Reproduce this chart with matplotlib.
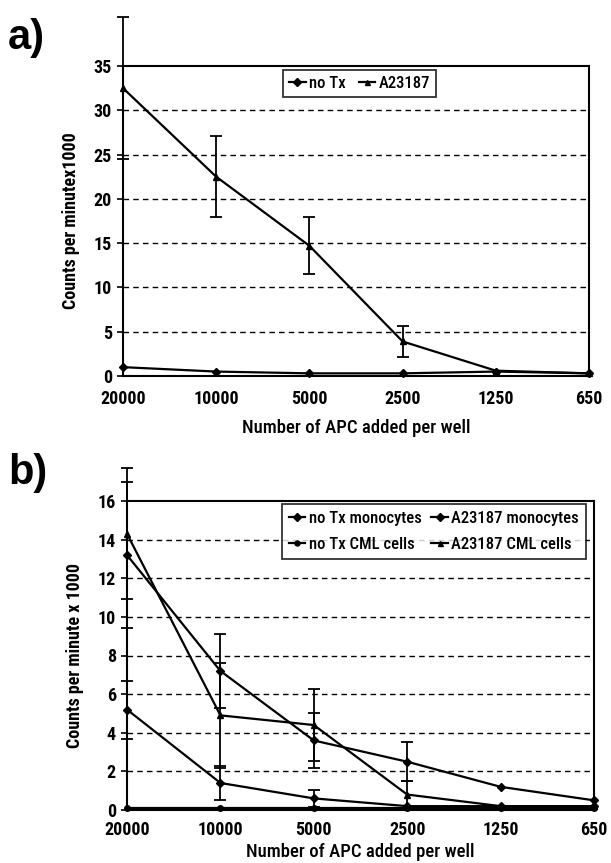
import numpy as np
import matplotlib
matplotlib.use('Agg')
import matplotlib.pyplot as plt

plt.rcParams['font.family'] = ['Roboto Condensed', 'Liberation Sans', 'DejaVu Sans']

# --- data ---
apc_labels = ['20000', '10000', '5000', '2500', '1250', '650']

# panel a
a_notx = [1.0, 0.5, 0.3, 0.3, 0.5, 0.3]
a_a23187 = [32.5, 22.5, 14.7, 3.9, 0.6, 0.3]
a_a23187_err = [8.0, 4.6, 3.2, 1.8, 0.0, 0.0]

# panel b
b_notx_mono = [5.2, 1.4, 0.6, 0.2, 0.2, 0.2]
b_notx_mono_err = [1.5, 0.9, 0.45, 0.0, 0.0, 0.0]
b_a23187_mono = [13.2, 7.2, 3.6, 2.5, 1.2, 0.5]
b_a23187_mono_err = [3.8, 1.9, 1.4, 1.0, 0.0, 0.0]
b_notx_cml = [0.1, 0.1, 0.1, 0.1, 0.1, 0.1]
b_a23187_cml = [14.3, 4.9, 4.4, 0.8, 0.2, 0.2]
b_a23187_cml_err = [3.4, 2.7, 1.85, 0.7, 0.0, 0.0]

x = np.arange(len(apc_labels))
W, H = 611, 863

fig = plt.figure(figsize=(W / 100, H / 100), dpi=100)
# axes boxes in pixel coords of the reference (left, right, top, bottom)
ax_a = fig.add_axes([123 / W, 1 - 376 / H, (589 - 123) / W, (376 - 66) / H])
ax_b = fig.add_axes([127 / W, 1 - 810 / H, (594 - 127) / W, (810 - 501) / H])

line_kw = dict(color='black', lw=1.6, markersize=4, clip_on=False, zorder=3)
err_kw = dict(fmt='none', ecolor='black', elinewidth=1.3, capsize=4.5, capthick=1.3,
              clip_on=False, zorder=3)


def style_axis(ax, ymax, ystep, ylabel, xpad, xlabelpad):
    ax.set_xlim(0, len(apc_labels) - 1)
    ax.set_ylim(0, ymax)
    ax.set_yticks(np.arange(0, ymax + 0.1, ystep))
    ax.set_xticks(x)
    ax.set_xticklabels(apc_labels)
    for t in ax.get_xticklabels() + ax.get_yticklabels():
        t.set_fontweight('bold')
        t.set_fontsize(13)
    ax.tick_params(axis='x', length=0, pad=xpad)
    ax.tick_params(axis='y', length=4, width=1.2, direction='out', pad=4)
    for g in np.arange(ystep, ymax, ystep):
        ax.axhline(g, color='black', lw=1.0, ls=(0, (4, 3)), zorder=1)
    for sp in ax.spines.values():
        sp.set_linewidth(1.5)
    ax.set_ylabel(ylabel, fontsize=13, fontweight='bold', labelpad=10)
    ax.set_xlabel('Number of APC added per well', fontsize=13.5, fontweight='medium',
                  labelpad=xlabelpad)


leg_kw = dict(loc='upper left', frameon=True, fancybox=False, edgecolor='black',
              prop={'size': 12, 'weight': 'medium'}, handlelength=1.0,
              handletextpad=0.2, borderaxespad=0, markerscale=0.9)

# panel a
h1, = ax_a.plot(x, a_notx, marker='D', label='no Tx', **line_kw)
h2, = ax_a.plot(x, a_a23187, marker='^', label='A23187', **line_kw)
ax_a.errorbar(x[:4], a_a23187[:4], yerr=a_a23187_err[:4], **err_kw)
style_axis(ax_a, 35, 5, 'Counts per minutex1000', 10, 8)
leg = ax_a.legend(handles=[h1, h2], ncol=2, columnspacing=0.8, borderpad=0.35,
                  bbox_to_anchor=(283 / W, 1 - 70 / H), bbox_transform=fig.transFigure,
                  **leg_kw)
leg.get_frame().set_linewidth(1.3)

# panel b
g1, = ax_b.plot(x, b_notx_mono, marker='D', label='no Tx monocytes', **line_kw)
g2, = ax_b.plot(x, b_a23187_mono, marker='D', label='A23187 monocytes', **line_kw)
g3, = ax_b.plot(x, b_notx_cml, marker='o', label='no Tx CML cells', **line_kw)
g4, = ax_b.plot(x, b_a23187_cml, marker='^', label='A23187 CML cells', **line_kw)
ax_b.errorbar(x[:3], b_notx_mono[:3], yerr=b_notx_mono_err[:3], **err_kw)
ax_b.errorbar(x[:4], b_a23187_mono[:4], yerr=b_a23187_mono_err[:4], **err_kw)
ax_b.errorbar(x[:4], b_a23187_cml[:4], yerr=b_a23187_cml_err[:4], **err_kw)
style_axis(ax_b, 16, 2, 'Counts per minute x 1000', 8, 3)
# column-wise fill -> order handles so rows read monocytes / CML cells
leg = ax_b.legend(handles=[g1, g3, g2, g4], ncol=2, columnspacing=0.6, labelspacing=0.7,
                  borderpad=0.4,
                  bbox_to_anchor=(282 / W, 1 - 504 / H), bbox_transform=fig.transFigure,
                  **leg_kw)
leg.get_frame().set_linewidth(1.3)

fig.text(8 / W, 1 - 38 / H, 'a)', fontsize=30, fontweight='bold', va='center',
         family=['Liberation Sans', 'DejaVu Sans'])
fig.text(8 / W, 1 - 473 / H, 'b)', fontsize=30, fontweight='bold', va='center',
         family=['Liberation Sans', 'DejaVu Sans'])

fig.savefig('out.png', dpi=100)
